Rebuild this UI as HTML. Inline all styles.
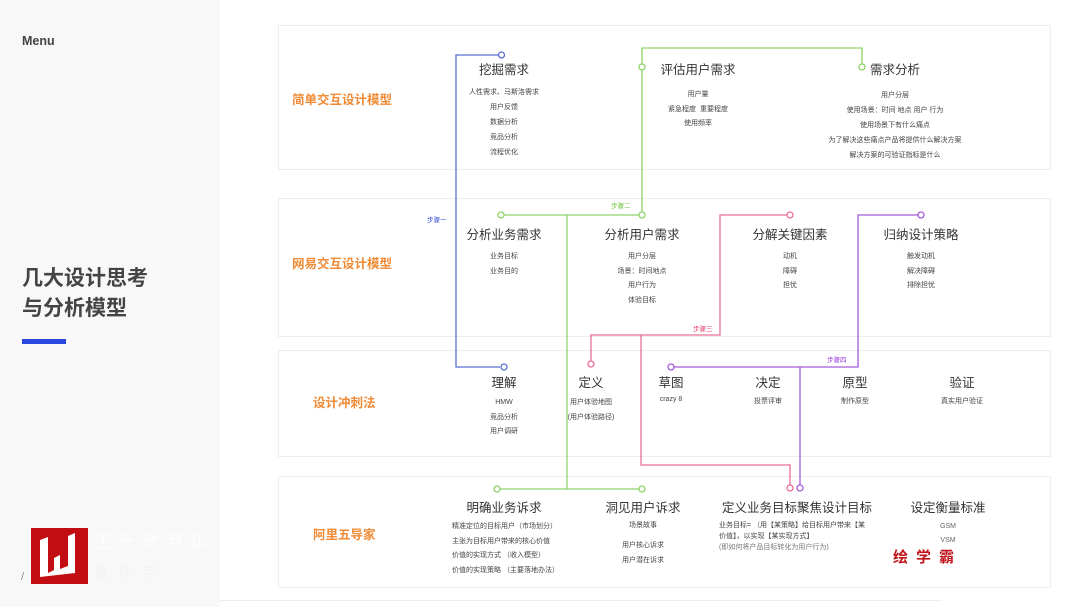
<!DOCTYPE html>
<html><head><meta charset="utf-8"><style>
body{margin:0;width:1080px;height:607px;overflow:hidden;background:#fff;position:relative;font-family:"Liberation Sans","Noto Sans CJK SC",sans-serif;color:#333}
.side{position:absolute;left:0;top:0;width:220px;height:607px;background:#f8f8f9}
.p{position:absolute;left:278px;width:773px;background:#fff;border:1px solid #eeeeef;box-sizing:border-box}
.a{position:absolute;white-space:nowrap;transform:translateX(-50%)}
.h{font-size:12.5px;color:#333}
.i{font-size:7px;color:#444}
.o{font-size:12.5px;color:#f08a35;font-weight:bold;position:absolute;white-space:nowrap}
.s{position:absolute;font-size:6.5px;white-space:nowrap}
svg{position:absolute;left:0;top:0}
</style></head><body>
<div class="side"></div>
<div style="position:absolute;left:22px;top:34px;font-size:12.5px;font-weight:bold;color:#444">Menu</div>
<div style="position:absolute;left:22px;top:264px;font-size:21px;line-height:30px;color:#444;font-weight:bold">几大设计思考<br>与分析模型</div>
<div style="position:absolute;left:22px;top:339px;width:44px;height:5px;background:#2a48e0"></div>

<div class="p" style="top:25px;height:145px"></div>
<div class="p" style="top:198px;height:139px"></div>
<div class="p" style="top:350px;height:107px"></div>
<div class="p" style="top:476px;height:112px"></div>
<div style="position:absolute;left:220px;top:600px;width:722px;height:7px;border-top:1px solid #eee;background:#fff"></div>

<div class="o" style="left:292px;top:89px">简单交互设计模型</div>
<div class="o" style="left:292px;top:253px">网易交互设计模型</div>
<div class="o" style="left:313px;top:392px">设计冲刺法</div>
<div class="o" style="left:313px;top:524px">阿里五导家</div>

<svg width="1080" height="607" fill="none" stroke-width="1.3">
<g stroke="#5a6fd0"><path d="M498 55H456V367H500"/><circle cx="501.5" cy="55" r="3" fill="#fff"/><circle cx="504" cy="367" r="3" fill="#fff"/></g>
<g stroke="#8fd36a"><path d="M642 215V48H862V64"/><path d="M504 215H639"/><path d="M567 215V489"/><path d="M500 489H639"/>
<circle cx="642" cy="67" r="3" fill="#fff"/><circle cx="862" cy="67" r="3" fill="#fff"/><circle cx="501" cy="215" r="3" fill="#fff"/><circle cx="642" cy="215" r="3" fill="#fff"/><circle cx="497" cy="489" r="3" fill="#fff"/><circle cx="642" cy="489" r="3" fill="#fff"/></g>
<g stroke="#ec6f95"><path d="M787 215H720V335H591V361"/><path d="M641 335V465H790V485"/><circle cx="790" cy="215" r="3" fill="#fff"/><circle cx="591" cy="364" r="3" fill="#fff"/><circle cx="790" cy="488" r="3" fill="#fff"/></g>
<g stroke="#a45ad8"><path d="M918 215H858V367H674"/><path d="M800 367V485"/><circle cx="921" cy="215" r="3" fill="#fff"/><circle cx="671" cy="367" r="3" fill="#fff"/><circle cx="800" cy="488" r="3" fill="#fff"/></g>
</svg>
<div class="s" style="left:427px;top:214px;color:#3a52d8">步骤一</div>
<div class="s" style="left:611px;top:200px;color:#6cc43a">步骤二</div>
<div class="s" style="left:693px;top:323px;color:#e0406e">步骤三</div>
<div class="s" style="left:827px;top:354px;color:#9a3ce0">步骤四</div>

<!-- row1 -->
<div class="a h" style="left:504px;top:59px">挖掘需求</div>
<div class="a i" style="left:504px;top:85px;line-height:15px;text-align:center">人性需求、马斯洛需求<br>用户反馈<br>数据分析<br>竞品分析<br>流程优化</div>
<div class="a h" style="left:698px;top:59px">评估用户需求</div>
<div class="a i" style="left:698px;top:88px;line-height:14.5px;text-align:center">用户量<br>紧急程度&nbsp; 重要程度<br>使用频率</div>
<div class="a h" style="left:895px;top:59px">需求分析</div>
<div class="a i" style="left:895px;top:88px;line-height:15px;text-align:center">用户分层<br>使用场景：时间 地点 用户 行为<br>使用场景下有什么痛点<br>为了解决这些痛点产品将提供什么解决方案<br>解决方案的可验证指标是什么</div>
<!-- row2 -->
<div class="a h" style="left:504px;top:224px">分析业务需求</div>
<div class="a i" style="left:504px;top:250px;line-height:14.5px;text-align:center">业务目标<br>业务目的</div>
<div class="a h" style="left:642px;top:224px">分析用户需求</div>
<div class="a i" style="left:642px;top:250px;line-height:14.5px;text-align:center">用户分层<br>场景：时间地点<br>用户行为<br>体验目标</div>
<div class="a h" style="left:790px;top:224px">分解关键因素</div>
<div class="a i" style="left:790px;top:250px;line-height:14.5px;text-align:center">动机<br>障碍<br>担忧</div>
<div class="a h" style="left:921px;top:224px">归纳设计策略</div>
<div class="a i" style="left:921px;top:250px;line-height:14.5px;text-align:center">触发动机<br>解决障碍<br>排除担忧</div>
<!-- row3 -->
<div class="a h" style="left:504px;top:372px">理解</div>
<div class="a i" style="left:504px;top:396px;line-height:14.5px;text-align:center">HMW<br>竞品分析<br>用户调研</div>
<div class="a h" style="left:591px;top:372px">定义</div>
<div class="a i" style="left:591px;top:396px;line-height:14.5px;text-align:center">用户体验地图<br>(用户体验路径)</div>
<div class="a h" style="left:671px;top:372px">草图</div>
<div class="a i" style="left:671px;top:396px">crazy 8</div>
<div class="a h" style="left:768px;top:372px">决定</div>
<div class="a i" style="left:768px;top:396px">投票评审</div>
<div class="a h" style="left:855px;top:372px">原型</div>
<div class="a i" style="left:855px;top:396px">制作原型</div>
<div class="a h" style="left:962px;top:372px">验证</div>
<div class="a i" style="left:962px;top:396px">真实用户验证</div>
<!-- row4 -->
<div class="a h" style="left:504px;top:497px">明确业务诉求</div>
<div style="position:absolute;left:452px;top:520px;font-size:7px;line-height:14.5px;color:#444">精准定位的目标用户（市场划分）<br>主张为目标用户带来的核心价值<br>价值的实现方式 （收入模型）<br>价值的实现策略 （主要落地办法）</div>
<div class="a h" style="left:643px;top:497px">洞见用户诉求</div>
<div class="a i" style="left:643px;top:520px">场景故事</div>
<div class="a i" style="left:643px;top:538px;line-height:15px;text-align:center">用户核心诉求<br>用户潜在诉求</div>
<div class="a h" style="left:797px;top:497px">定义业务目标聚焦设计目标</div>
<div style="position:absolute;left:719px;top:520px;font-size:7px;line-height:11px;color:#444;width:150px">业务目标= （用【某策略】给目标用户带来【某价值】，以实现【某实现方式】<br><span style="color:#777">(即如何将产品目标转化为用户行为)</span></div>
<div class="a h" style="left:948px;top:497px">设定衡量标准</div>
<div class="a i" style="left:948px;top:520px;line-height:14px;text-align:center;color:#666">GSM<br>VSM</div>
<div style="position:absolute;left:893px;top:546px;font-size:15px;font-weight:bold;color:#c0141c;letter-spacing:8px">绘学霸</div>

<!-- logo -->
<div style="position:absolute;left:31px;top:528px;width:57px;height:56px;background:#c20e12"></div>
<svg width="1080" height="607" style="pointer-events:none"><path d="M40 540l8 -3v36l6 -3v-12l6 -3v14l8 -3v-30l7 -3v40l-35 4z" fill="#fff"/></svg>
<div style="position:absolute;left:94px;top:528px;font-size:18px;color:#fff;letter-spacing:6px;opacity:.9;text-shadow:0 0 1px #eee">王氏教育集</div>
<div style="position:absolute;left:94px;top:562px;font-size:14px;color:#f2f2f2;letter-spacing:10px">设计学</div>
<div style="position:absolute;left:21px;top:571px;font-size:11px;color:#888">/</div>
</body></html>
